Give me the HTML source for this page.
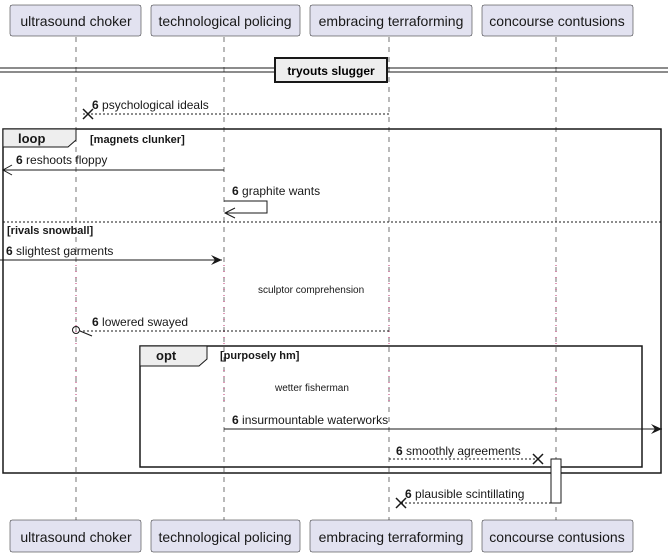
<!DOCTYPE html>
<html><head><style>body{margin:0;background:#fff}svg{display:block}text{font-family:"Liberation Sans",sans-serif}</style></head><body>
<svg width="668" height="557" viewBox="0 0 668 557" xmlns="http://www.w3.org/2000/svg">
<defs>
<marker id="fa" markerWidth="12" markerHeight="10" refX="11" refY="5" orient="auto" markerUnits="userSpaceOnUse"><path d="M0,0 L11,5 L0,10 L4,5 Z" fill="#181818"/></marker>
</defs>
<g stroke="#181818" stroke-width="0.6" stroke-dasharray="5,5" fill="none">
<line x1="76" y1="37" x2="76" y2="520"/><line x1="224" y1="37" x2="224" y2="520"/>
<line x1="389" y1="37" x2="389" y2="520"/><line x1="556" y1="37" x2="556" y2="520"/>
</g>
<g stroke="#b5004f" stroke-width="0.8" stroke-dasharray="1,5">
<line x1="76" y1="265" x2="76" y2="345"/><line x1="224" y1="265" x2="224" y2="345"/><line x1="389" y1="265" x2="389" y2="345"/><line x1="556" y1="265" x2="556" y2="345"/>
<line x1="76" y1="370" x2="76" y2="405"/><line x1="224" y1="370" x2="224" y2="405"/><line x1="389" y1="370" x2="389" y2="405"/><line x1="556" y1="370" x2="556" y2="405"/>
</g>
<g fill="#e2e2f0" stroke="#181818" stroke-width="0.5">
<rect x="10" y="5" width="131" height="31" rx="2"/><rect x="151" y="5" width="149" height="31" rx="2"/><rect x="310" y="5" width="162" height="31" rx="2"/><rect x="482" y="5" width="151" height="31" rx="2"/>
<rect x="10" y="520" width="131" height="32" rx="2"/><rect x="151" y="520" width="149" height="32" rx="2"/><rect x="310" y="520" width="162" height="32" rx="2"/><rect x="482" y="520" width="151" height="32" rx="2"/>
</g>
<g font-size="14" fill="#181818" text-anchor="middle">
<text x="76" y="26">ultrasound choker</text><text x="225" y="26">technological policing</text><text x="391" y="26">embracing terraforming</text><text x="557" y="26">concourse contusions</text>
<text x="76" y="542">ultrasound choker</text><text x="225" y="542">technological policing</text><text x="391" y="542">embracing terraforming</text><text x="557" y="542">concourse contusions</text>
</g>
<line x1="0" y1="68" x2="668" y2="68" stroke="#181818"/><line x1="0" y1="72" x2="668" y2="72" stroke="#181818"/>
<rect x="275" y="58" width="112" height="24" fill="#eee" stroke="#181818" stroke-width="2"/>
<text x="331" y="75" font-size="12" font-weight="bold" text-anchor="middle">tryouts slugger</text>
<g font-size="12" fill="#181818">
<line x1="389" y1="114" x2="82" y2="114" stroke="#181818" stroke-dasharray="2,2"/>
<path d="M83,109 L93,119 M93,109 L83,119" stroke="#181818" stroke-width="1.5"/>
<text x="92" y="109"><tspan font-weight="bold">6</tspan> psychological ideals</text>
<rect x="3" y="129" width="658" height="344" fill="none" stroke="#181818" stroke-width="1.5"/>
<path d="M3,129 H76 V140 L68,147 H3 Z" fill="#eee" stroke="#181818" stroke-width="1"/>
<text x="18" y="143" font-weight="bold" font-size="13">loop</text>
<text x="90" y="143" font-weight="bold" font-size="11">[magnets clunker]</text>
<line x1="224" y1="170" x2="3" y2="170" stroke="#181818"/>
<path d="M12,165 L3,170 L12,175" stroke="#181818" fill="none"/>
<text x="16" y="164"><tspan font-weight="bold">6</tspan> reshoots floppy</text>
<path d="M224,201 H267 V213 H225" stroke="#181818" fill="none"/>
<path d="M235,208 L225,213 L235,218" stroke="#181818" fill="none"/>
<text x="232" y="195"><tspan font-weight="bold">6</tspan> graphite wants</text>
<line x1="3" y1="222" x2="661" y2="222" stroke="#181818" stroke-dasharray="2,2"/>
<text x="7" y="234" font-weight="bold" font-size="11">[rivals snowball]</text>
<line x1="0" y1="260" x2="222" y2="260" stroke="#181818" marker-end="url(#fa)"/>
<text x="6" y="255"><tspan font-weight="bold">6</tspan> slightest garments</text>
<text x="258" y="293" font-size="10">sculptor comprehension</text>
<line x1="389" y1="331" x2="80" y2="331" stroke="#181818" stroke-dasharray="2,2"/>
<circle cx="76" cy="330" r="3.5" fill="none" stroke="#181818"/>
<path d="M92,336 L80,331" stroke="#181818"/>
<text x="92" y="326"><tspan font-weight="bold">6</tspan> lowered swayed</text>
<rect x="140" y="346" width="502" height="121" fill="none" stroke="#181818" stroke-width="1.5"/>
<path d="M140,346 H207 V359 L199,366 H140 Z" fill="#eee" stroke="#181818" stroke-width="1"/>
<text x="156" y="360" font-weight="bold" font-size="13">opt</text>
<text x="220" y="359" font-weight="bold" font-size="11">[purposely hm]</text>
<text x="275" y="391" font-size="10">wetter fisherman</text>
<line x1="224" y1="429" x2="662" y2="429" stroke="#181818" marker-end="url(#fa)"/>
<text x="232" y="424"><tspan font-weight="bold">6</tspan> insurmountable waterworks</text>
<line x1="389" y1="459" x2="538" y2="459" stroke="#181818" stroke-dasharray="2,2"/>
<path d="M533,454 L543,464 M543,454 L533,464" stroke="#181818" stroke-width="1.5"/>
<text x="396" y="455"><tspan font-weight="bold">6</tspan> smoothly agreements</text>
<rect x="551" y="459" width="10" height="44" fill="#fff" stroke="#181818"/>
<line x1="551" y1="503" x2="402" y2="503" stroke="#181818" stroke-dasharray="2,2"/>
<path d="M396,498 L406,508 M406,498 L396,508" stroke="#181818" stroke-width="1.5"/>
<text x="405" y="498"><tspan font-weight="bold">6</tspan> plausible scintillating</text>
</g>
</svg>
</body></html>
